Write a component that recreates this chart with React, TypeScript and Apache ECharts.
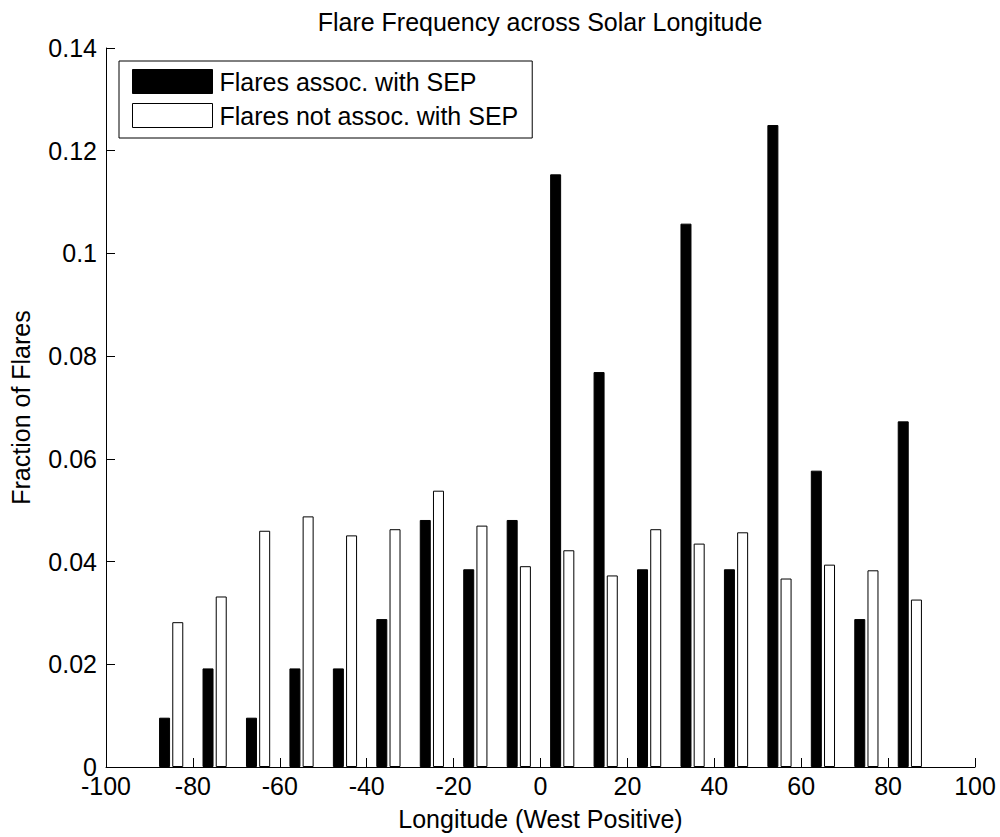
import React, { useEffect, useRef } from "react";
import * as echarts from "echarts";

const longitudeCenters = [-85, -75, -65, -55, -45, -35, -25, -15, -5, 5, 15, 25, 35, 45, 55, 65, 75, 85];
const sepFraction = [0.0096, 0.0192, 0.0096, 0.0192, 0.0192, 0.0288, 0.0481, 0.0385, 0.0481, 0.1154, 0.0769, 0.0385, 0.1058, 0.0385, 0.125, 0.0577, 0.0288, 0.0673];
const nonSepFraction = [0.0282, 0.0332, 0.046, 0.0488, 0.0451, 0.0463, 0.0538, 0.047, 0.0391, 0.0422, 0.0373, 0.0463, 0.0435, 0.0457, 0.0367, 0.0394, 0.0383, 0.0326];
const seriesNames = ["Flares assoc. with SEP", "Flares not assoc. with SEP"];
const titleText = "Flare Frequency across Solar Longitude";
const xAxisName = "Longitude (West Positive)";
const yAxisName = "Fraction of Flares";

const FONT = "'Liberation Sans', Arial, Helvetica, sans-serif";
const FS = 25;

export default function App() {
  const ref = useRef<HTMLDivElement>(null);
  useEffect(() => {
    if (!ref.current) return;
    const chart = echarts.init(ref.current, null, { renderer: "svg" });
    const axisText = { color: "#000", fontSize: FS, fontFamily: FONT };
    chart.setOption({
      animation: false,
      backgroundColor: "#fff",
      textStyle: { fontFamily: FONT, color: "#000" },
      graphic: [
        {
          type: "text",
          x: 540,
          y: 9,
          style: {
            text: titleText,
            fontSize: FS,
            fontFamily: FONT,
            fill: "#000",
            textAlign: "center",
            textVerticalAlign: "top",
          },
        },
      ],
      legend: {
        orient: "vertical",
        left: 119,
        top: 61,
        padding: [8, 14, 10, 13],
        itemWidth: 80,
        itemHeight: 24,
        itemGap: 9,
        borderColor: "#000",
        borderWidth: 1,
        backgroundColor: "#fff",
        selectedMode: false,
        textStyle: { fontSize: FS, fontFamily: FONT, color: "#000", padding: [0, 0, 0, 2] },
        data: [
          { name: seriesNames[0], icon: "rect", itemStyle: { color: "#000", borderColor: "#000", borderWidth: 1 } },
          { name: seriesNames[1], icon: "rect", itemStyle: { color: "#fff", borderColor: "#000", borderWidth: 1 } },
        ],
      },
      grid: { left: 106, right: 25, top: 48, bottom: 70, containLabel: false },
      xAxis: {
        type: "value",
        min: -100,
        max: 100,
        interval: 20,
        name: xAxisName,
        nameLocation: "middle",
        nameGap: 39,
        nameTextStyle: axisText,
        axisLine: { show: true, onZero: false, lineStyle: { color: "#000", width: 1 } },
        axisTick: { show: true, inside: true, length: 9, lineStyle: { color: "#000" } },
        axisLabel: { ...axisText, margin: 9, lineHeight: 20 },
        splitLine: { show: false },
      },
      yAxis: {
        type: "value",
        min: 0,
        max: 0.14,
        interval: 0.02,
        name: yAxisName,
        nameLocation: "middle",
        nameGap: 73,
        nameRotate: 90,
        nameTextStyle: axisText,
        axisLine: { show: true, onZero: false, lineStyle: { color: "#000", width: 1 } },
        axisTick: { show: true, inside: true, length: 9, lineStyle: { color: "#000" } },
        axisLabel: {
          ...axisText,
          margin: 9,
          lineHeight: 18,
          formatter: (v: number) => String(parseFloat(v.toFixed(2))),
        },
        splitLine: { show: false },
      },
      series: [
        {
          name: seriesNames[0],
          type: "bar",
          barWidth: 11,
          barGap: "20%",
          itemStyle: { color: "#000", borderColor: "#000", borderWidth: 1 },
          data: longitudeCenters.map((x, i) => [x, sepFraction[i]]),
        },
        {
          name: seriesNames[1],
          type: "bar",
          barWidth: 11,
          barGap: "20%",
          itemStyle: { color: "#fff", borderColor: "#000", borderWidth: 1 },
          data: longitudeCenters.map((x, i) => [x, nonSepFraction[i]]),
        },
      ],
    });
    return () => chart.dispose();
  }, []);
  return (
    <div
      ref={ref}
      style={{ position: "fixed", left: 0, top: 0, width: 1000, height: 837, background: "#fff" }}
    />
  );
}
